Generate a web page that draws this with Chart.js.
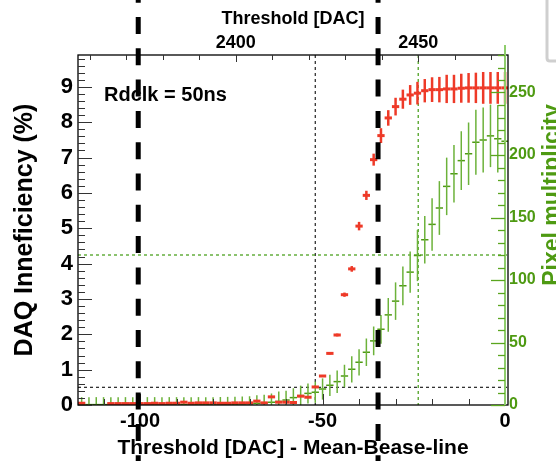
<!DOCTYPE html>
<html><head><meta charset="utf-8">
<script src="https://cdn.jsdelivr.net/npm/chart.js@4/dist/chart.umd.min.js"></script>
<style>html,body{margin:0;padding:0;background:#fff;}#wrap{width:556px;height:461px;}</style>
</head><body><div id="wrap"><canvas id="c" width="556" height="461"></canvas></div>
<script>
const FONT = "'Liberation Sans', Arial, Helvetica, sans-serif";
const xMin = -117, xMax = 0.8;
const yMax = 9.9, y2Max = 280;
const thresholdOffset = 2473.8;
const binHalfWidth = 1;
const bottomTicks = [-100, -50, 0];
const topTicks = [2400, 2450];
const leftTicks = [0, 1, 2, 3, 4, 5, 6, 7, 8, 9];
const rightTicks = [0, 50, 100, 150, 200, 250];

const xValues = [-116,-114,-112,-110,-108,-106,-104,-102,-100,-98,-96,-94,-92,-90,-88,-86,-84,-82,-80,-78,
  -76,-74,-72,-70,-68,-66,-64,-62,-60,-58,-56,-54,-52,-50,-48,-46,-44,-42,-40,-38,
  -36,-34,-32,-30,-28,-26,-24,-22,-20,-18,-16,-14,-12,-10,-8,-6,-4,-2,0];
const ineff = [0.05,null,null,null,0.04,0.04,0.04,0.04,0.04,0.04,0.05,0.04,0.05,0.05,0.08,0.05,0.06,0.06,0.06,0.05,
  0.05,0.06,0.06,0.06,0.11,0.06,0.23,0.08,0.08,0.07,0.25,0.22,0.51,0.82,1.46,1.98,3.12,3.85,5.06,5.93,
  6.94,7.62,8.12,8.44,8.65,8.77,8.82,8.89,8.92,8.92,8.94,8.94,8.96,8.97,8.97,8.97,8.97,8.97,8.97];
const ineffErr = [0.02,0,0,0,0.02,0.02,0.02,0.02,0.02,0.02,0.02,0.02,0.02,0.02,0.02,0.02,0.02,0.02,0.02,0.02,
  0.02,0.02,0.02,0.02,0.02,0.02,0.02,0.02,0.02,0.02,0.02,0.02,0.02,0.02,0.03,0.04,0.06,0.08,0.12,0.13,
  0.17,0.21,0.22,0.25,0.27,0.28,0.32,0.33,0.35,0.36,0.40,0.40,0.41,0.42,0.43,0.45,0.45,0.45,0.45];
const mult = [0.3,0.3,0.3,0.3,0.3,0.3,0.3,0.3,0.3,0.3,0.3,0.3,0.3,0.3,0.3,0.3,0.3,0.3,0.3,0.4,
  0.5,0.6,0.8,1.0,1.3,1.7,2.2,2.8,4.0,5.9,7.5,9.3,10.2,12.8,15.8,18.7,23.2,28.6,34.2,42.2,
  51.3,60.6,72.1,83.1,95.4,106.3,119.6,132.2,144.5,157.6,174.9,185,195.5,201,210.2,212,215.3,213,211];
const multErr = [6,6,6,6,6,6,6,6,6,6,6,6,6,6,6,6,6,6,6,6,
  6,6,6,6,6.5,6.5,7,8,7.5,7.5,8,8,8.5,8.5,8.5,9,9,10.5,10.5,11,
  11.5,11.5,13.5,15,15.5,16.5,20.5,19,21,21.5,23,23,23.5,25,26,26,25,27,27];

const refLines = { blackX: -52, blackY: 0.5, greenX: 2450 - thresholdOffset, greenY2: 120 };
const thickDashedX = [-100.5, -34.8];

const RED = '#ee3a28', GREEN = '#4e9a12', GREEN_LIGHT = '#8fcd6c';

function halfBinPx(c) {
  const s = c.chart.scales.x;
  return Math.abs(s.getPixelForValue(binHalfWidth) - s.getPixelForValue(0));
}

const rootPlugin = {
  id: 'rootStyle',
  beforeDatasetsDraw(chart) {
    const {ctx, chartArea: a, scales} = chart;
    ctx.save();
    ctx.lineWidth = 1.2;
    ctx.setLineDash([3, 3]);
    ctx.strokeStyle = '#222';
    let px = scales.x.getPixelForValue(refLines.blackX);
    ctx.beginPath(); ctx.moveTo(px, a.top); ctx.lineTo(px, a.bottom); ctx.stroke();
    let py = scales.y.getPixelForValue(refLines.blackY);
    ctx.beginPath(); ctx.moveTo(a.left, py); ctx.lineTo(a.right, py); ctx.stroke();
    ctx.strokeStyle = '#3f9a10';
    px = scales.x.getPixelForValue(refLines.greenX);
    ctx.beginPath(); ctx.moveTo(px, a.top); ctx.lineTo(px, a.bottom); ctx.stroke();
    py = scales.y2.getPixelForValue(refLines.greenY2);
    ctx.beginPath(); ctx.moveTo(a.left, py); ctx.lineTo(a.right, py); ctx.stroke();
    ctx.restore();
  },
  afterDatasetDraw(chart, args) {
    const ds = chart.data.datasets[args.index];
    const {ctx, chartArea: a} = chart;
    const xs = chart.scales.x, ys = chart.scales[ds.yAxisID];
    ctx.save();
    ctx.beginPath(); ctx.rect(a.left, a.top, a.right - a.left, a.bottom - a.top); ctx.clip();
    ctx.strokeStyle = ds.errColor; ctx.lineWidth = ds.errWidth;
    ds.data.forEach(p => {
      if (p.y == null || !p.e) return;
      const px = xs.getPixelForValue(p.x);
      ctx.beginPath();
      ctx.moveTo(px, ys.getPixelForValue(p.y - p.e));
      ctx.lineTo(px, ys.getPixelForValue(p.y + p.e));
      ctx.stroke();
    });
    ctx.restore();
  },
  afterDraw(chart) {
    const {ctx, chartArea: a, scales} = chart;
    ctx.save();
    ctx.strokeStyle = '#000'; ctx.lineWidth = 1.3; ctx.setLineDash([]);
    ctx.strokeRect(a.left, a.top, a.right - a.left, a.bottom - a.top);
    const tick = (x1, y1, x2, y2) => { ctx.beginPath(); ctx.moveTo(x1, y1); ctx.lineTo(x2, y2); ctx.stroke(); };
    ctx.strokeStyle = '#333'; ctx.lineWidth = 1;
    for (let k = 0; k <= 49; k++) {
      const v = k * 0.2; const py = Math.round(scales.y.getPixelForValue(v)) + 0.5;
      tick(a.left, py, a.left + (k % 5 === 0 ? 14 : 7), py);
    }
    for (let v = -110; v <= 0; v += 10) {
      const px = Math.round(scales.x.getPixelForValue(v)) + 0.5;
      tick(px, a.bottom, px, a.bottom - (bottomTicks.includes(v) ? 11 : 6));
    }
    for (let v = 2360; v <= 2470; v += 10) {
      const px = Math.round(scales.x2.getPixelForValue(v)) + 0.5;
      tick(px, a.top, px, a.top + (topTicks.includes(v) ? 7 : 5));
    }
    const gx = a.right - 3;
    ctx.strokeStyle = GREEN_LIGHT; ctx.lineWidth = 2;
    tick(gx, a.bottom, gx, a.top - 10);
    ctx.strokeStyle = '#5aa51e'; ctx.lineWidth = 1.3;
    for (let v = 0; v <= 280; v += 10) {
      const py = Math.round(scales.y2.getPixelForValue(v)) + 0.5;
      tick(gx, py, gx - (rightTicks.includes(v) ? 14 : 7), py);
    }
    ctx.fillStyle = '#000'; ctx.font = 'bold 20px ' + FONT;
    ctx.textAlign = 'left'; ctx.textBaseline = 'alphabetic';
    ctx.fillText('Rdclk = 50ns', 104, 101);
    ctx.save();
    ctx.translate(559, 195); ctx.rotate(-Math.PI / 2);
    ctx.fillStyle = GREEN; ctx.font = 'bold 23px ' + FONT; ctx.textAlign = 'center';
    ctx.fillText('Pixel multiplicity', 0, 0);
    ctx.restore();
    ctx.strokeStyle = '#000'; ctx.lineWidth = 5; ctx.setLineDash([17, 14.3]); ctx.lineDashOffset = 14.3;
    thickDashedX.forEach(v => {
      const px = scales.x.getPixelForValue(v);
      tick(px, 0, px, chart.height);
    });
    ctx.setLineDash([]); ctx.strokeStyle = '#cfcfcf'; ctx.lineWidth = 3;
    ctx.beginPath(); ctx.moveTo(547, 0); ctx.lineTo(547, 58); ctx.quadraticCurveTo(547, 61, 550, 61); ctx.lineTo(556, 61); ctx.stroke();
    ctx.restore();
  }
};

const tickFont = (size) => ({ family: FONT, size, weight: 'bold' });
const plainLabel = v => String(v);

new Chart(document.getElementById('c'), {
  type: 'scatter',
  data: {
    datasets: [
      {
        label: 'DAQ Inneficiency (%)', yAxisID: 'y', xAxisID: 'x',
        data: xValues.map((x, i) => ({ x, y: ineff[i], e: ineffErr[i] })),
        pointStyle: 'line', pointRadius: halfBinPx, pointBorderWidth: 3,
        pointBorderColor: RED, borderColor: RED, backgroundColor: RED,
        errColor: RED, errWidth: 2.5, showLine: false
      },
      {
        label: 'Pixel multiplicity', yAxisID: 'y2', xAxisID: 'x',
        data: xValues.map((x, i) => ({ x, y: mult[i], e: multErr[i] })),
        pointStyle: 'line', pointRadius: halfBinPx, pointBorderWidth: 1.5,
        pointBorderColor: GREEN, borderColor: GREEN, backgroundColor: GREEN,
        errColor: '#6cb23a', errWidth: 1.5, showLine: false
      }
    ]
  },
  options: {
    responsive: false, animation: false, events: [],
    layout: { padding: 0 },
    plugins: { legend: { display: false }, tooltip: { enabled: false } },
    scales: {
      x: {
        type: 'linear', position: 'bottom', min: xMin, max: xMax,
        afterBuildTicks: s => { s.ticks = bottomTicks.map(v => ({ value: v })); },
        afterFit: s => { s.height = 56; },
        grid: { display: false, drawTicks: false }, border: { display: false },
        ticks: { font: tickFont(20), color: '#000', padding: 4, maxRotation: 0, autoSkip: false, callback: plainLabel },
        title: { display: true, text: 'Threshold [DAC] - Mean-Bease-line', color: '#000', font: tickFont(21), padding: { top: 0, bottom: 0 } }
      },
      x2: {
        type: 'linear', position: 'top', min: xMin + thresholdOffset, max: xMax + thresholdOffset,
        afterBuildTicks: s => { s.ticks = topTicks.map(v => ({ value: v })); },
        afterFit: s => { s.height = 55; },
        grid: { display: false, drawTicks: false }, border: { display: false },
        ticks: { font: tickFont(18), color: '#000', padding: 1, maxRotation: 0, autoSkip: false, callback: plainLabel },
        title: { display: true, text: 'Threshold [DAC]', color: '#000', font: tickFont(18), padding: { top: 8, bottom: 0 } }
      },
      y: {
        type: 'linear', position: 'left', min: 0, max: yMax,
        afterBuildTicks: s => { s.ticks = leftTicks.map(v => ({ value: v })); },
        afterFit: s => { s.width = 78; },
        grid: { display: false, drawTicks: false }, border: { display: false },
        ticks: { font: tickFont(22), color: '#000', padding: 5, autoSkip: false, callback: plainLabel },
        title: { display: true, text: 'DAQ Inneficiency (%)', color: '#000', font: tickFont(25), padding: { top: 10, bottom: 0 } }
      },
      y2: {
        type: 'linear', position: 'right', min: 0, max: y2Max,
        afterBuildTicks: s => { s.ticks = rightTicks.map(v => ({ value: v })); },
        afterFit: s => { s.width = 48; },
        grid: { display: false, drawTicks: false }, border: { display: false },
        ticks: { font: tickFont(16), color: GREEN, padding: 1, autoSkip: false, callback: plainLabel }
      }
    }
  },
  plugins: [rootPlugin]
});
</script></body></html>
